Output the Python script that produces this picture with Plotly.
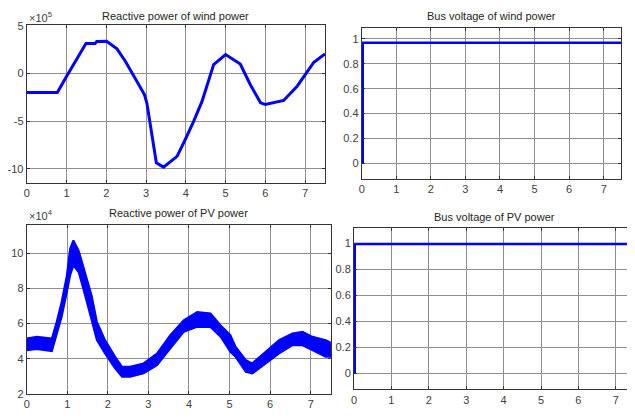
import plotly.graph_objects as go

# ---- data ----
wind_t = [0, 0.77, 1.0, 1.26, 1.49, 1.72, 1.76, 2.01, 2.27, 2.48, 2.73, 2.96, 3.02, 3.15,
          3.26, 3.44, 3.61, 3.78, 3.99, 4.2, 4.41, 4.57, 4.7, 5.0, 5.37, 5.62, 5.88, 6.0,
          6.46, 6.8, 7.22, 7.5]
wind_q = [-2.0, -2.0, -0.3, 1.47, 3.15, 3.15, 3.36, 3.4, 2.6, 1.3, -0.45, -2.2, -3.08, -6.4,
          -9.37, -9.83, -9.3, -8.7, -6.9, -5.0, -2.9, -0.63, 0.94, 2.0, 1.0, -1.15, -3.08, -3.25,
          -2.83, -1.33, 1.19, 2.07]  # x 1e5

pv_t = [0, 0.25, 0.62, 0.74, 0.86, 0.99, 1.07, 1.15, 1.28, 1.44, 1.6, 1.73, 1.93, 2.18, 2.35,
        2.55, 2.88, 3.21, 3.54, 3.87, 4.2, 4.53, 4.78, 5.02, 5.15, 5.4, 5.56, 5.89, 6.22, 6.55,
        6.8, 7.04, 7.37, 7.5]
pv_q_upper = [5.15, 5.25, 5.15, 6.1, 7.23, 8.74, 10.25, 10.72, 10.15, 8.93, 7.6, 6.1, 5.06, 4.11,
              3.55, 3.55, 3.74, 4.3, 5.34, 6.19, 6.66, 6.57, 5.9, 5.34, 4.68, 3.93, 3.74, 4.4,
              5.06, 5.44, 5.53, 5.25, 5.06, 4.9]  # x 1e4
pv_q_lower = [4.49, 4.55, 4.43, 5.34, 6.38, 7.79, 8.74, 9.3, 8.93, 7.6, 6.1, 5.06, 4.3, 3.45,
              2.98, 2.98, 3.17, 3.64, 4.59, 5.53, 5.81, 5.81, 5.25, 4.4, 4.11, 3.26, 3.17, 3.74,
              4.3, 4.77, 4.77, 4.49, 4.11, 4.11]  # x 1e4

bus_wind_t = [0.03, 0.03, 7.5]
bus_wind_v = [0.0, 0.97, 0.97]
bus_pv_t = [0.02, 0.02, 7.5]
bus_pv_v = [0.0, 0.995, 0.995]

x_ticks = [0, 1, 2, 3, 4, 5, 6, 7]
wind_q_ticks = [5, 0, -5, -10]
wind_q_ticklabels = ["5", "0", "-5", "-10"]
pv_q_ticks = [2, 4, 6, 8, 10]
bus_ticks = [0, 0.2, 0.4, 0.6, 0.8, 1]
bus_ticklabels = ["0", "0.2", "0.4", "0.6", "0.8", "1"]

titles = ["Reactive power of wind power", "Bus voltage of wind power",
          "Reactive power of PV power", "Bus voltage of PV power"]

BLUE = "#0000ff"
FONT = "Liberation Sans, Arial, sans-serif"
AXC = "#333333"
GRID = "#8f8f8f"
W, H = 635, 419
OFF = 8  # default page body margin shifts the figure by this many pixels

fig = go.Figure()

fig.add_trace(go.Scatter(x=wind_t, y=wind_q, mode="lines",
                         line=dict(color=BLUE, width=3), xaxis="x", yaxis="y"))
fig.add_trace(go.Scatter(x=bus_wind_t, y=bus_wind_v, mode="lines",
                         line=dict(color=BLUE, width=2.5), xaxis="x2", yaxis="y2"))
fig.add_trace(go.Scatter(x=pv_t, y=pv_q_upper, mode="lines",
                         line=dict(color=BLUE, width=2), xaxis="x3", yaxis="y3"))
fig.add_trace(go.Scatter(x=pv_t, y=pv_q_lower, mode="lines", fill="tonexty",
                         fillcolor=BLUE, line=dict(color=BLUE, width=2), xaxis="x3", yaxis="y3"))
fig.add_trace(go.Scatter(x=bus_pv_t, y=bus_pv_v, mode="lines",
                         line=dict(color=BLUE, width=2.5), xaxis="x4", yaxis="y4"))

def fx(p):
    return (p - OFF) / W

def fy(p):
    return 1 - (p - OFF) / H

doms = [
    ([fx(26.7), fx(325)], [fy(183), fy(25)]),
    ([fx(361.7), fx(621)], [fy(179), fy(28.3)]),
    ([fx(26.7), fx(331)], [fy(394), fy(225)]),
    ([fx(354), fx(634.5)], [fy(389.3), fy(228.3)]),
]
yranges = [[-11.5, 5.1], [-0.126, 1.086], [2, 11.6], [-0.123, 1.115]]
ytickvals = [wind_q_ticks, bus_ticks, pv_q_ticks, bus_ticks]
yticktext = [wind_q_ticklabels, bus_ticklabels, [str(v) for v in pv_q_ticks], bus_ticklabels]

common = dict(showline=True, mirror="ticks", linecolor=AXC, linewidth=1,
              ticks="inside", ticklen=3, tickcolor=AXC, automargin=False,
              showgrid=True, gridcolor=GRID, gridwidth=1, zeroline=False,
              tickfont=dict(family=FONT, size=11, color="#404040"))

layout = dict(width=W, height=H, margin=dict(l=0, r=0, t=0, b=0, autoexpand=False),
              paper_bgcolor="white", plot_bgcolor="white", showlegend=False,
              font=dict(family=FONT, size=11, color="#262626"))
for i, (xd, yd) in enumerate(doms):
    n = "" if i == 0 else str(i + 1)
    layout["xaxis" + n] = dict(domain=xd, range=[0, 7.5], tickvals=x_ticks,
                               anchor="y" + n, **common)
    layout["yaxis" + n] = dict(domain=yd, range=yranges[i], tickvals=ytickvals[i],
                               ticktext=yticktext[i], anchor="x" + n, **common)
fig.update_layout(**layout)

title_pos = [(175.8, 16), (491.3, 16), (178.8, 213.3), (494.3, 217.3)]
for t, (cx, cy) in zip(titles, title_pos):
    fig.add_annotation(text=t, x=fx(cx), y=fy(cy), xref="paper", yref="paper",
                       showarrow=False, xanchor="center", yanchor="middle",
                       font=dict(family=FONT, size=11, color="#262626"))

for txt, (lx, ly) in [("×10<sup>5</sup>", (26.7, 17)), ("×10<sup>4</sup>", (26.7, 215))]:
    fig.add_annotation(text=txt, x=fx(lx), y=fy(ly), xref="paper", yref="paper",
                       showarrow=False, xanchor="left", yanchor="middle",
                       font=dict(family=FONT, size=11, color="#404040"))

fig.write_html("out.html")
